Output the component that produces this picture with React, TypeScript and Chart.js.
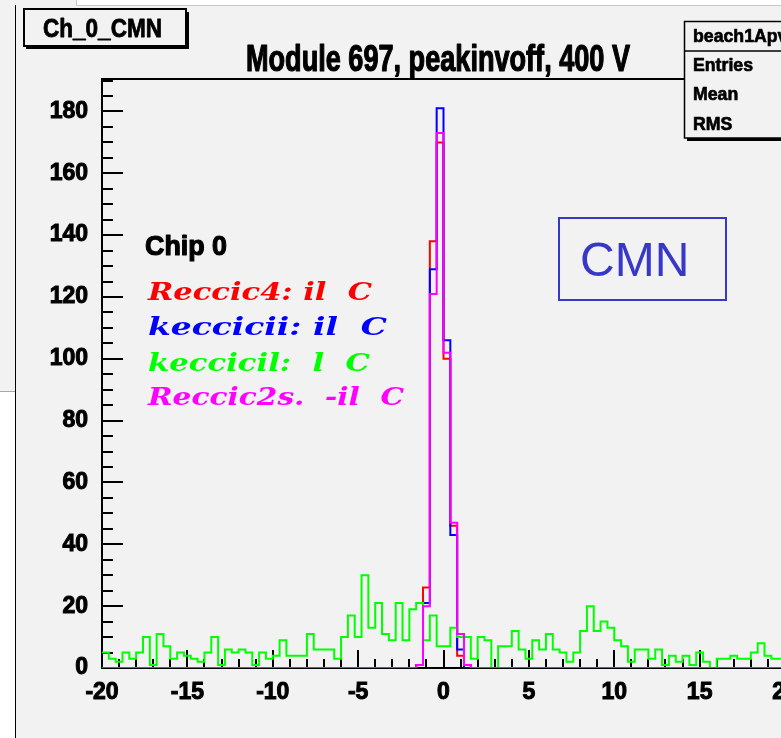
import React, { useEffect, useRef } from 'react';
import { Chart, registerables } from 'chart.js';

Chart.register(...registerables);

// ---- histogram binning ----
const X_MIN = -20;
const X_MAX = 20;
const BIN_WIDTH = 0.4;
const N_BINS = 100;
const Y_MAX = 190.5;
const X_TICK_STEP = 5;
const Y_TICK_STEP = 20;

// ---- series values (counts per bin) ----
const greenCounts = [
  5, 3, 2, 5, 3, 5, 10, 1, 11, 7,
  3, 5, 4, 3, 2, 5, 10, 1, 6, 5,
  6, 5, 1, 5, 3, 4, 9, 4, 4, 4,
  11, 6, 6, 6, 3, 10, 17, 10, 30, 13,
  21, 11, 9, 21, 9, 19, 21, 9, 17, 7,
  7, 13, 10, 10, 3, 10, 9, 0, 7, 7,
  12, 6, 3, 9, 6, 11, 6, 5, 2, 5,
  12, 20, 12, 15, 13, 9, 7, 2, 6, 6,
  3, 6, 1, 4, 2, 4, 1, 5, 2, 0,
  3, 3, 4, 3, 3, 5, 8, 4, 3, 3,
];
// narrow peaks: bins 46..53 (x = -1.6 .. 1.6); all other bins are 0
const PEAK_FIRST_BIN = 46;
const redPeak = [1, 26, 138, 170, 100, 46, 4, 1];
const bluePeak = [1, 21, 129, 181, 106, 43, 6, 0];
const magentaPeak = [1, 20, 121, 173, 102, 47, 11, 1];

// ---- texts ----
const TITLE = 'Module 697, peakinvoff, 400 V';
const PAD_LABEL = 'Ch_0_CMN';
const STATS_NAME = 'beach1Apv';
const STATS_ROWS = ['Entries', 'Mean', 'RMS'];
const LEGEND_HEADER = 'Chip 0';
const LEGEND_LINES = ['Reccic4: il  C', 'keccicii: il  C', 'keccicil:  l  C', 'Reccic2s.  -il  C'];
const LEGEND_COLORS = ['#ff0000', '#0000ff', '#00ff00', '#ff00ff'];
const CMN_TEXT = 'CMN';

function fullBins(peak: number[], first: number): number[] {
  const arr: number[] = [];
  for (let i = 0; i < N_BINS; i++) {
    const k = i - first;
    arr.push(k >= 0 && k < peak.length ? peak[k] : 0);
  }
  return arr;
}

// one point per bin low edge, plus the closing high edge
function toSteps(values: number[]) {
  const pts = values.map((v, i) => ({ x: X_MIN + i * BIN_WIDTH, y: v }));
  pts.push({ x: X_MIN + values.length * BIN_WIDTH, y: values[values.length - 1] });
  return pts;
}

function fitText(
  ctx: CanvasRenderingContext2D,
  text: string,
  x: number,
  baseline: number,
  targetWidth: number,
  font: string,
  color: string,
  heavy = 0
) {
  ctx.save();
  ctx.font = font;
  ctx.fillStyle = color;
  ctx.strokeStyle = color;
  ctx.textAlign = 'left';
  ctx.textBaseline = 'alphabetic';
  const w = ctx.measureText(text).width;
  const s = targetWidth / w;
  ctx.translate(x, baseline);
  ctx.scale(s, 1);
  ctx.fillText(text, 0, 0);
  if (heavy > 0) {
    ctx.lineWidth = heavy;
    ctx.lineJoin = 'round';
    ctx.strokeText(text, 0, 0);
  }
  ctx.restore();
}

const BOLD = '"Liberation Sans", Arial, sans-serif';

const decorPlugin = {
  id: 'rootDecor',
  beforeDraw(chart: any) {
    const ctx: CanvasRenderingContext2D = chart.ctx;
    const W = chart.width;
    const H = chart.height;
    ctx.save();
    ctx.fillStyle = '#f2f2f2';
    ctx.fillRect(0, 0, W, H);
    // window artefacts
    ctx.fillStyle = '#ffffff';
    ctx.fillRect(77, 0, W, 5);
    ctx.fillRect(0, 392, 15, H);
    ctx.fillStyle = '#c8c8c8';
    ctx.fillRect(76, 5, W, 1);
    ctx.fillRect(76, 0, 1, 6);
    ctx.fillStyle = '#a8a8a8';
    ctx.fillRect(0, 391, 15, 1);
    ctx.fillStyle = '#000000';
    ctx.fillRect(15, 5, 1, H);
    ctx.restore();
  },
  beforeDatasetsDraw(chart: any) {
    const ctx: CanvasRenderingContext2D = chart.ctx;
    const { left, right, top, bottom } = chart.chartArea;
    const xs = chart.scales.x;
    const ys = chart.scales.y;
    ctx.save();
    ctx.strokeStyle = '#000';
    ctx.lineWidth = 2;
    ctx.beginPath();
    ctx.moveTo(left, top);
    ctx.lineTo(right, top);
    ctx.lineTo(right, bottom);
    ctx.stroke();
    // inside ticks
    ctx.lineWidth = 2;
    ctx.beginPath();
    for (let v = X_MIN; v <= X_MAX; v += 1) {
      const px = Math.round(xs.getPixelForValue(v));
      const len = v % X_TICK_STEP === 0 ? 18 : 9;
      ctx.moveTo(px, bottom);
      ctx.lineTo(px, bottom - len);
    }
    for (let v = 0; v <= Y_MAX; v += 5) {
      const py = Math.round(ys.getPixelForValue(v));
      const len = v % Y_TICK_STEP === 0 ? 21 : 11;
      ctx.moveTo(left, py);
      ctx.lineTo(left + len, py);
    }
    ctx.stroke();
    ctx.restore();
  },
  afterDraw(chart: any) {
    const ctx: CanvasRenderingContext2D = chart.ctx;
    ctx.save();
    // pad label box
    ctx.fillStyle = '#000';
    ctx.fillRect(26, 46, 163, 3);
    ctx.fillRect(186, 12, 3, 37);
    ctx.strokeStyle = '#000';
    ctx.lineWidth = 2;
    ctx.strokeRect(24, 9, 162, 37);
    fitText(ctx, PAD_LABEL, 43, 37, 119, `bold 25px ${BOLD}`, '#000', 0.8);

    // title
    fitText(ctx, TITLE, 246, 71, 384, `bold 36px ${BOLD}`, '#000', 1.2);

    // stats box
    ctx.fillStyle = '#000';
    ctx.fillRect(687, 138, 130, 3);
    ctx.fillStyle = '#f2f2f2';
    ctx.fillRect(684, 21, 130, 117);
    ctx.strokeStyle = '#000';
    ctx.lineWidth = 1.5;
    ctx.strokeRect(684.5, 21.5, 130, 116.5);
    ctx.beginPath();
    ctx.moveTo(684, 51);
    ctx.lineTo(820, 51);
    ctx.stroke();
    ctx.font = `bold 19px ${BOLD}`;
    const sx = 60 / ctx.measureText(STATS_ROWS[0]).width;
    const statsW = (t: string) => {
      ctx.font = `bold 19px ${BOLD}`;
      return ctx.measureText(t).width * sx;
    };
    fitText(ctx, STATS_NAME, 693, 42, statsW(STATS_NAME), `bold 19px ${BOLD}`, '#000', 0.7);
    const rowBase = [71, 100, 130];
    STATS_ROWS.forEach((t, i) => fitText(ctx, t, 693, rowBase[i], statsW(t), `bold 19px ${BOLD}`, '#000', 0.7));

    // legend text
    fitText(ctx, LEGEND_HEADER, 145, 255, 82, `bold 28px ${BOLD}`, '#000', 1.2);
    const lb = [300, 335, 371, 405];
    const lw = [224, 239, 222, 256];
    LEGEND_LINES.forEach((t, i) =>
      fitText(ctx, t, 148, lb[i], lw[i], `italic bold 25px "DejaVu Serif", serif`, LEGEND_COLORS[i], 0)
    );

    // CMN box
    ctx.strokeStyle = '#3737c8';
    ctx.lineWidth = 2;
    ctx.strokeRect(559, 218, 167, 82);
    ctx.fillStyle = '#3737c8';
    ctx.font = '48px "Liberation Sans", Arial, sans-serif';
    ctx.textBaseline = 'alphabetic';
    ctx.textAlign = 'left';
    ctx.fillText(CMN_TEXT, 580, 276);
    ctx.restore();
  },
};

const tickFont = {
  family: '"Liberation Sans Narrow", "Liberation Sans", Arial, sans-serif',
  size: 23,
  weight: 'bold' as const,
};

export default function App() {
  const ref = useRef<HTMLCanvasElement>(null);
  useEffect(() => {
    if (!ref.current) return;
    const red = fullBins(redPeak, PEAK_FIRST_BIN);
    const blue = fullBins(bluePeak, PEAK_FIRST_BIN);
    const magenta = fullBins(magentaPeak, PEAK_FIRST_BIN);
    const mk = (label: string, vals: number[], color: string, order: number) => ({
      label,
      data: toSteps(vals),
      borderColor: color,
      backgroundColor: color,
      borderWidth: 2,
      stepped: 'before' as const,
      pointRadius: 0,
      fill: false,
      tension: 0,
      borderJoinStyle: 'miter' as const,
      order,
    });
    const chart = new Chart(ref.current, {
      type: 'line',
      data: {
        datasets: [
          mk('Chip 0 red', red, '#ff0000', 3),
          mk('Chip 0 blue', blue, '#0000ff', 2),
          mk('Chip 0 green', greenCounts, '#00ff00', 1),
          mk('Chip 0 magenta', magenta, '#ff00ff', 0),
        ],
      },
      options: {
        animation: false,
        responsive: false,
        devicePixelRatio: 1,
        layout: { padding: { left: 0, top: 79, right: 15, bottom: 0 } },
        plugins: {
          legend: { display: false },
          tooltip: { enabled: false },
          title: { display: false },
        },
        scales: {
          x: {
            type: 'linear',
            min: X_MIN,
            max: X_MAX,
            grid: { display: false },
            border: { display: true, color: '#000', width: 2 },
            ticks: {
              stepSize: X_TICK_STEP,
              includeBounds: false,
              padding: 3,
              color: '#000',
              textStrokeColor: '#000',
              textStrokeWidth: 1,
              font: tickFont,
              maxRotation: 0,
              autoSkip: false,
            },
            afterFit: (s: any) => {
              s.height = 70;
              s.paddingLeft = 0;
              s.paddingRight = 0;
            },
          },
          y: {
            type: 'linear',
            min: 0,
            max: Y_MAX,
            grid: { display: false },
            border: { display: true, color: '#000', width: 2 },
            ticks: {
              stepSize: Y_TICK_STEP,
              includeBounds: false,
              padding: 6,
              color: '#000',
              textStrokeColor: '#000',
              textStrokeWidth: 1,
              font: tickFont,
              autoSkip: false,
            },
            afterFit: (s: any) => {
              s.width = 102;
              s.paddingTop = 0;
              s.paddingBottom = 0;
            },
          },
        },
      },
      plugins: [decorPlugin],
    });
    return () => chart.destroy();
  }, []);
  return (
    <div
      style={{
        position: 'fixed',
        left: 0,
        top: 0,
        width: 781,
        height: 738,
        overflow: 'hidden',
        background: '#f2f2f2',
      }}
    >
      <canvas ref={ref} width={800} height={738} style={{ display: 'block', width: 800, height: 738 }} />
    </div>
  );
}
